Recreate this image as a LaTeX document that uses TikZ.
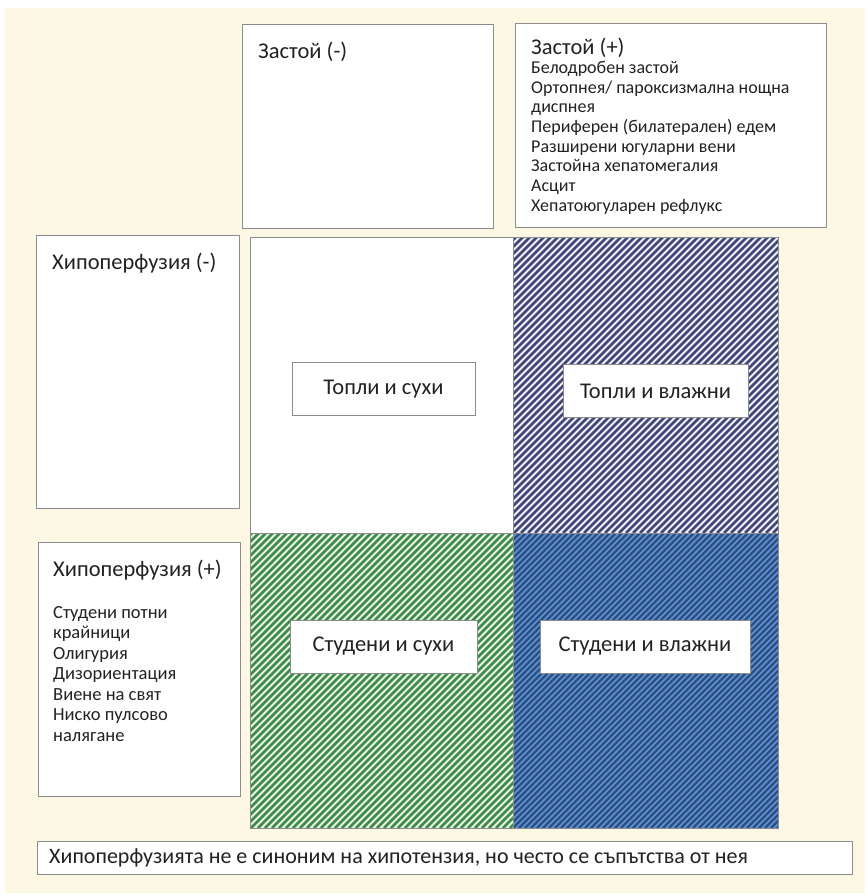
\documentclass[tikz,border=0pt]{standalone}
\usepackage{fontspec}
\setmainfont{Carlito}
\definecolor{cream}{HTML}{FCF8E4}
\definecolor{boxgray}{HTML}{8C8C8C}
\definecolor{txt}{HTML}{222222}
\definecolor{navyline}{HTML}{40457A}
\definecolor{lavbg}{HTML}{F0F0F8}
\definecolor{greenline}{HTML}{3C8A4E}
\definecolor{greenbg}{HTML}{EAF4DE}
\definecolor{bluebg}{HTML}{5B93D3}
\definecolor{blueline}{HTML}{2E4D80}

\begin{document}
\begin{tikzpicture}[x=1pt,y=-1pt,
  box/.style={draw=boxgray,line width=1.1pt,fill=white,anchor=north west,inner sep=0pt},
  head/.style={anchor=west,inner sep=0pt,text=txt,font=\fontsize{22.5}{27}\selectfont},
  items/.style={anchor=north west,inner sep=0pt,align=left,text=txt,font=\fontsize{18}{19.7}\selectfont},
  quad/.style={draw=boxgray,line width=0.8pt,fill=white,minimum height=53pt,text=txt,font=\fontsize{22.5}{27}\selectfont},
  stripe/.style={line width=2.8pt}]
\useasboundingbox (0,0) rectangle (865,896);
\fill[white] (0,0) rectangle (865,896);
\fill[cream] (5,8) rectangle (865,893);

% quadrants
\fill[white] (250,237) rectangle (513,533);
\begin{scope}
\clip (513,237) rectangle (778,533);
\fill[lavbg] (513,237) rectangle (778,533);
\foreach \s in {-300,-293,...,270}
  \draw[stripe,navyline] (513+\s,533) -- ++(300,-300);
\end{scope}
\begin{scope}
\clip (250,533) rectangle (513,828);
\fill[greenbg] (250,533) rectangle (513,828);
\foreach \s in {-300,-293,...,270}
  \draw[stripe,greenline] (250+\s,828) -- ++(300,-300);
\end{scope}
\begin{scope}
\clip (513,533) rectangle (778,828);
\fill[bluebg] (513,533) rectangle (778,828);
\foreach \s in {-300,-294,...,270}
  \draw[stripe,blueline,line width=2.3pt] (513+\s,828) -- ++(300,-300);
\end{scope}
\draw[boxgray,line width=0.8pt] (250,237) rectangle (778,828);
\draw[boxgray,line width=0.8pt] (513,237) -- (513,828);
\draw[boxgray,line width=0.8pt] (250,533) -- (778,533);

% boxes
\node[box,minimum width=251pt,minimum height=204pt] (zneg) at (242,24) {};
\node[box,minimum width=311pt,minimum height=204pt] (zpos) at (515,23) {};
\node[box,minimum width=203pt,minimum height=273pt] (hneg) at (36,235) {};
\node[box,minimum width=202pt,minimum height=254pt] (hpos) at (38,542) {};
\node[box,minimum width=815pt,minimum height=33pt] (note) at (37,841) {};

\node[head] (zneg-t) at (258,52) {Застой (-)};
\node[head] (zpos-t) at (531,48) {Застой (+)};
\node[items] (zpos-l) at (531,61) {Белодробен застой\\
Ортопнея/ пароксизмална нощна\\
диспнея\\
Периферен (билатерален) едем\\
Разширени югуларни вени\\
Застойна хепатомегалия\\
Асцит\\
Хепатоюгуларен рефлукс};
\node[head] (hneg-t) at (52,263) {Хипоперфузия (-)};
\node[head] (hpos-t) at (53,570) {Хипоперфузия (+)};
\node[items,font=\fontsize{18.5}{20.5}\selectfont] (hpos-l) at (53,606) {Студени потни\\
крайници\\
Олигурия\\
Дизориентация\\
Виене на свят\\
Ниско пулсово\\
налягане};
\node[head,font=\fontsize{22}{26}\selectfont] (note-t) at (49,857.5) {Хипоперфузията не е синоним на хипотензия, но често се съпътства от нея};

% quadrant labels
\node[quad,minimum width=183pt] (warmdry) at (383.5,389) {Топли и сухи};
\node[quad,minimum width=185pt] (warmwet) at (655.5,391) {Топли и влажни};
\node[quad,minimum width=187pt] (colddry) at (383.5,646.5) {Студени и сухи};
\node[quad,minimum width=210pt] (coldwet) at (645,646.5) {Студени и влажни};
\end{tikzpicture}
\end{document}
